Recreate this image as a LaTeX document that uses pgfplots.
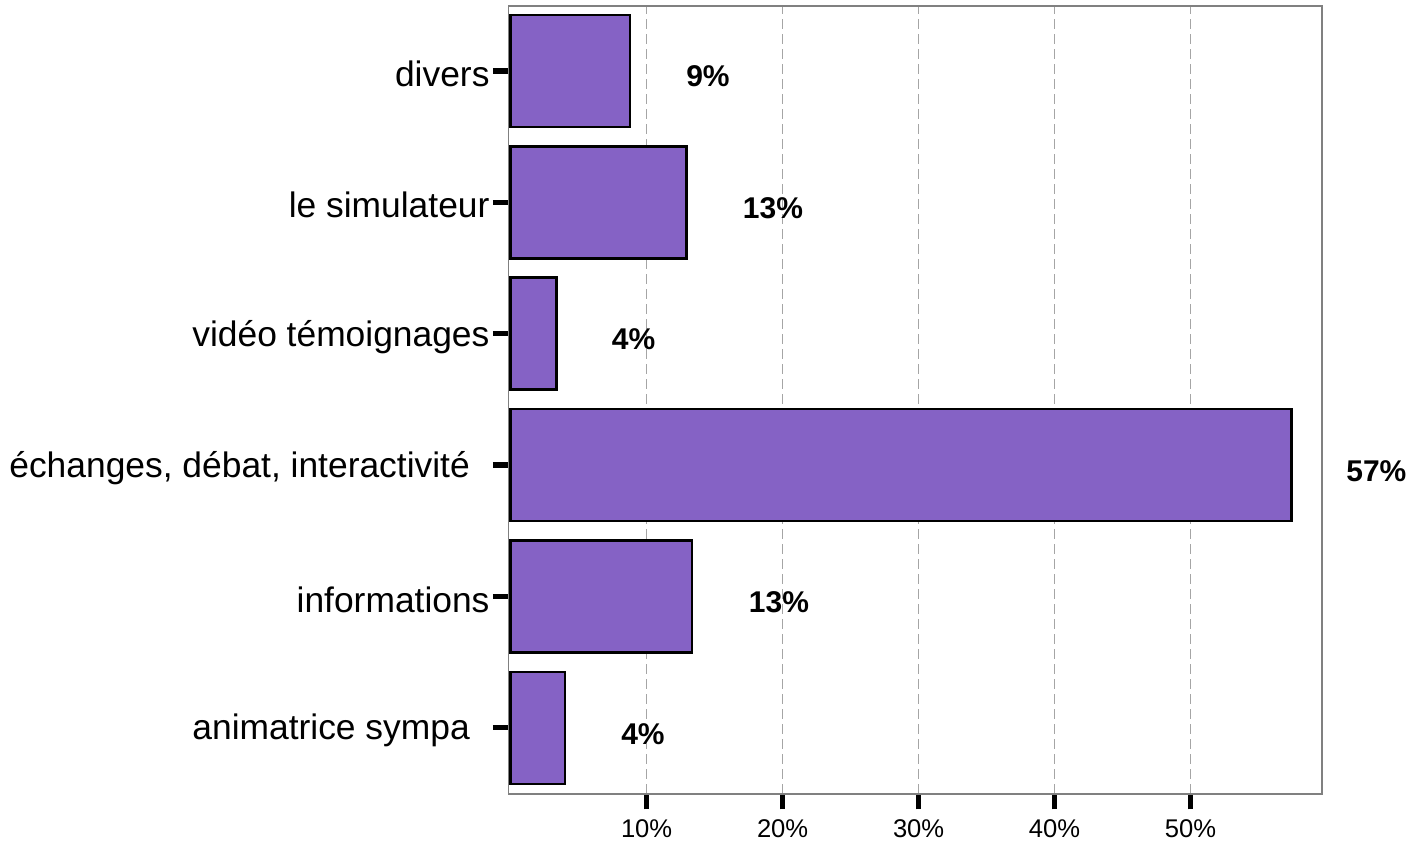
\documentclass[border=0pt]{standalone}
\usepackage{fontspec}
\setmainfont{Liberation Sans}
\usepackage{pgfplots}
\usepackage{pgfplotstable}
\pgfplotsset{compat=1.18}

\definecolor{barpurple}{RGB}{133,98,197}
\definecolor{boxgray}{RGB}{128,128,128}
\definecolor{gridgray}{RGB}{165,165,165}

% categories bottom to top, value in %
\pgfplotstableread{
y val
1 3.99
2 13.35
3 57.40
4 3.38
5 12.93
6 8.77
}\bars

\begin{document}
\begin{tikzpicture}
\begin{axis}[
    scale only axis,
    width=406.75pt, height=394pt,
    xmin=-0.16, xmax=59.65,
    ymin=0.4977, ymax=6.4947,
    clip=false,
    axis line style={boxgray, line width=0.8pt},
    xtick={10,20,30,40,50},
    xticklabels={10\%,20\%,30\%,40\%,50\%},
    ytick={1,2,3,4,5,6},
    yticklabels={animatrice sympa\hphantom{n},informations,{échanges, débat, interactivité\hphantom{n}},vidéo témoignages,le simulateur,divers},
    xtick pos=bottom, ytick pos=left,
    tick align=outside,
    major tick length=7.8pt,
    tick style={black, line width=2.6pt},
    xticklabel style={font=\fontsize{12.8}{14}\selectfont, yshift=-1.8pt},
    yticklabel style={font=\fontsize{17.7}{20}\selectfont, inner xsep=1.5pt, yshift=-1.5pt},
    xmajorgrids,
    grid style={gridgray, dash pattern=on 5pt off 2.5pt, line width=0.5pt},
]
\addplot[xbar, bar width=0.852, fill=barpurple, draw=black, line width=1.3pt]
    table[x=val, y=y] {\bars};

\begin{scope}[every node/.style={font=\bfseries\fontsize{15}{17}\selectfont}]
\node at (axis cs:14.51,5.962) {9\%};
\node at (axis cs:19.29,4.957) {13\%};
\node at (axis cs:9.04,3.960) {4\%};
\node at (axis cs:63.66,2.956) {57\%};
\node at (axis cs:19.73,1.959) {13\%};
\node at (axis cs:9.73,0.954) {4\%};
\end{scope}

\coordinate (bl) at (axis cs:-37.55,0.1324);
\coordinate (tr) at (axis cs:66.28,6.540);
\end{axis}
\pgfresetboundingbox
\path[use as bounding box] (bl) rectangle (tr);
\end{tikzpicture}
\end{document}
